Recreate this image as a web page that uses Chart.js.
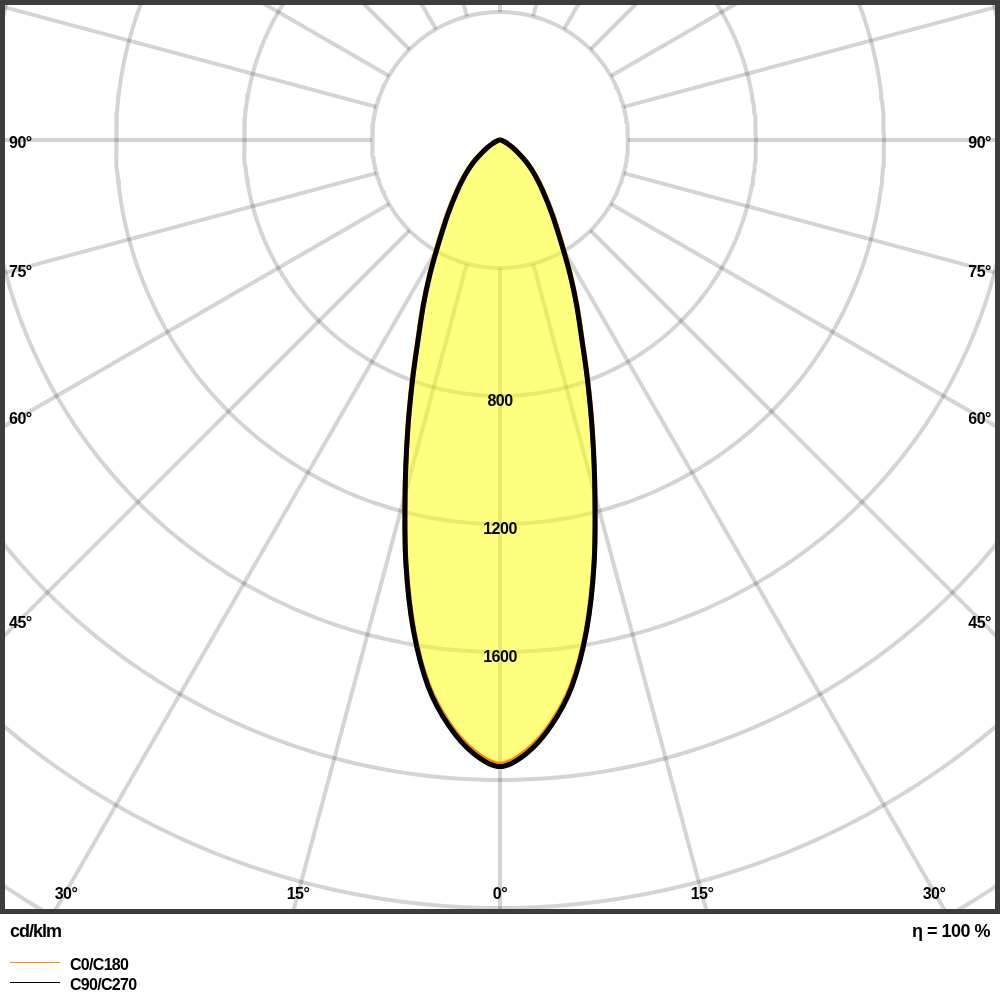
<!DOCTYPE html>
<html>
<head>
<meta charset="utf-8">
<script src="https://cdn.jsdelivr.net/npm/chart.js@4.4.1/dist/chart.umd.min.js"></script>
<style>
body { margin: 0; background: #fff; }
#wrap { position: relative; width: 1000px; height: 1000px; font-family: "Liberation Sans", Arial, sans-serif; font-weight: bold; color: #000; }
#wrap canvas { position: absolute; left: 0; top: 0; }
.txt { position: absolute; white-space: nowrap; line-height: 1; transform: translateY(-50%); }
.key { position: absolute; left: 10px; width: 50px; height: 1px; }
</style>
</head>
<body>
<div id="wrap">
  <canvas id="polarChart" width="1000" height="1000"></canvas>
  <div class="txt" style="left:10px; top:931px; font-size:18px; letter-spacing:-1px;">cd/klm</div>
  <div class="txt" style="right:10px; top:931px; font-size:18px; letter-spacing:-0.5px;">η = 100 %</div>
  <div class="key" style="top:962px; background:#ff8c00;"></div>
  <div class="txt" style="left:70px; top:965px; font-size:16px; letter-spacing:-0.7px;">C0/C180</div>
  <div class="key" style="top:982px; background:#000;"></div>
  <div class="txt" style="left:70px; top:985px; font-size:16px; letter-spacing:-0.7px;">C90/C270</div>
</div>
<script>
// luminous intensity distribution (cd/klm), gamma in degrees
const gammaAngles = [0, 2.5, 5, 7.5, 10, 12.5, 15, 17.5, 20, 22.5, 25, 27.5, 30, 35, 40, 45, 50, 55, 60, 65, 70, 75, 80, 85, 90];
const c0c180  = [1950, 1910, 1830, 1716, 1553, 1356, 1146, 962, 803, 668, 568, 479, 400, 290, 213, 157, 111, 69, 41, 25, 14, 8, 4, 1, 0];
const c90c270 = [1958, 1918, 1837, 1722, 1557, 1358, 1146, 961, 800, 665, 565, 475, 395, 284, 208, 153, 108, 67, 40, 24, 14, 8, 4, 1, 0];

const ringValues = [400, 800, 1200, 1600, 2000, 2400, 2800];
const ringLabels = [800, 1200, 1600];
const spokeAngles = [0, 15, 30, 45, 60, 75, 90, 105, 120, 135, 150, 165, 180];
const sideLabels = ["90°", "75°", "60°", "45°"];
const bottomLabels = ["30°", "15°", "0°", "15°", "30°"];

const GRID = "rgba(0,0,0,0.17)";

function polar(gamma, value, side) {
    const g = gamma * Math.PI / 180;
    return { x: side * value * Math.sin(g), y: -value * Math.cos(g) };
}

// left half (C180 / C270) then right half (C0 / C90)
function curvePoints(values) {
    const pts = [];
    for (let i = gammaAngles.length - 1; i >= 0; i--) pts.push(polar(gammaAngles[i], values[i], -1));
    for (let i = 1; i < gammaAngles.length; i++) pts.push(polar(gammaAngles[i], values[i], 1));
    return pts;
}

function ringPoints(r) {
    const pts = [];
    for (let a = 0; a <= 360; a += 1) pts.push(polar(a, r, 1));
    return pts;
}

const datasets = [
    {
        label: "C90/C270",
        data: curvePoints(c90c270),
        showLine: true,
        borderColor: "#000",
        borderWidth: 5,
        pointRadius: 0,
        tension: 0.35,
        fill: false,
        borderJoinStyle: "round"
    },
    {
        label: "C0/C180",
        data: curvePoints(c0c180),
        showLine: true,
        borderColor: "#ff8c00",
        backgroundColor: "rgba(255,255,0,0.5)",
        borderWidth: 5,
        pointRadius: 0,
        tension: 0.35,
        fill: "shape",
        borderJoinStyle: "round"
    }
];

ringValues.forEach(r => {
    datasets.push({
        data: ringPoints(r),
        showLine: true,
        borderColor: GRID,
        borderWidth: 4,
        pointRadius: 0,
        fill: false,
        borderJoinStyle: "round"
    });
});

spokeAngles.forEach(a => {
    const sides = (a === 0 || a === 180) ? [1] : [-1, 1];
    sides.forEach(s => {
        datasets.push({
            data: [polar(a, 400, s), polar(a, 3200, s)],
            showLine: true,
            borderColor: GRID,
            borderWidth: 4,
            pointRadius: 0,
            fill: false
        });
    });
});

const labelPlugin = {
    id: "polarLabels",
    afterDatasetsDraw(chart) {
        const ctx = chart.ctx;
        const xs = chart.scales.x, ys = chart.scales.y;
        ctx.save();
        ctx.fillStyle = "#000";
        ctx.font = "bold 16px 'Liberation Sans', Arial, sans-serif";
        ctx.letterSpacing = "-0.5px";
        ctx.textBaseline = "middle";

        // ring values along the 0 degree axis
        ctx.textAlign = "center";
        ringLabels.forEach(v => {
            ctx.fillText(String(v), xs.getPixelForValue(0), ys.getPixelForValue(-v) + 6);
        });

        // angle labels on the frame edges
        const sideY = [144, 273, 420, 624];
        sideLabels.forEach((t, i) => {
            ctx.textAlign = "left";
            ctx.fillText(t, 9, sideY[i]);
            ctx.textAlign = "right";
            ctx.fillText(t, 991, sideY[i]);
        });
        const bottomX = [66, 298, 500, 702, 934];
        ctx.textAlign = "center";
        bottomLabels.forEach((t, i) => ctx.fillText(t, bottomX[i], 895));
        ctx.restore();
    },
    afterDraw(chart) {
        const ctx = chart.ctx;
        ctx.save();
        ctx.strokeStyle = "#3d3d3d";
        ctx.lineWidth = 5;
        ctx.strokeRect(2.5, 2.5, 995, 909);
        ctx.restore();
    }
};

new Chart(document.getElementById("polarChart").getContext("2d"), {
    type: "scatter",
    data: { datasets: datasets },
    options: {
        responsive: false,
        animation: false,
        layout: { padding: { left: 0, right: 0, top: 0, bottom: 88 } },
        plugins: {
            legend: { display: false },
            tooltip: { enabled: false }
        },
        scales: {
            x: { type: "linear", display: false, min: -1562.5, max: 1562.5 },
            y: { type: "linear", display: false, min: -2412.5, max: 437.5 }
        }
    },
    plugins: [labelPlugin]
});
</script>
</body>
</html>
